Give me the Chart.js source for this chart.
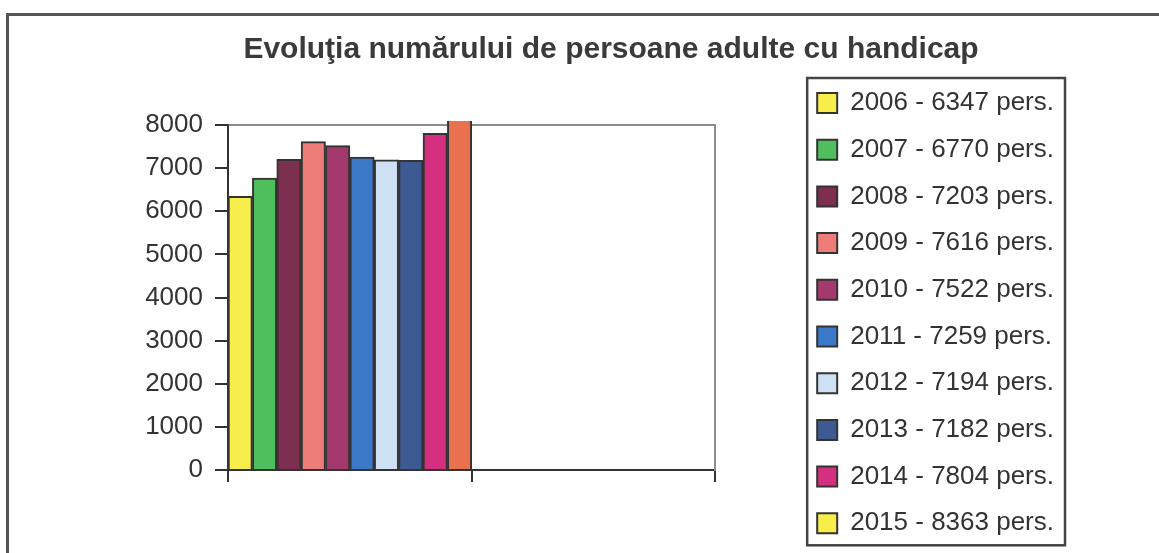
<!DOCTYPE html>
<html>
<head>
<meta charset="utf-8">
<script src="https://cdn.jsdelivr.net/npm/chart.js@4"></script>
<style>
  html, body { margin: 0; padding: 0; background: #fff; overflow: hidden; }
  #wrap { position: relative; width: 1159px; height: 553px; overflow: hidden; }
  #frame { position: absolute; left: 6px; top: 13px; width: 1250px; height: 600px;
           border: 3px solid #555; pointer-events: none; }
  canvas { position: absolute; left: 0; top: 0; }
</style>
</head>
<body>
<div id="wrap">
  <canvas id="chart" width="1222" height="557"></canvas>
  <div id="frame"></div>
</div>
<script>
// date
const categories = ['', ''];
const years = ['2006','2007','2008','2009','2010','2011','2012','2013','2014','2015'];
const persons = [6347, 6770, 7203, 7616, 7522, 7259, 7194, 7182, 7804, 8363];
const barColors = ['#f7ee4c','#4fbe5c','#7d2f4f','#ee7d79','#a3396d','#3b78c8','#cde0f4','#3e5a93','#d4307f','#e9714f'];
// in original legenda pentru 2015 are patrat galben
const legendColors = ['#f7ee4c','#4fbe5c','#7d2f4f','#ee7d79','#a3396d','#3b78c8','#cde0f4','#3e5a93','#d4307f','#f7ee4c'];
const yMax = 8000, yStep = 1000;

const FONT = "'Liberation Sans', Arial, sans-serif";
const INK = '#333';

const datasets = years.map((y, i) => ({
  label: y + ' - ' + persons[i] + ' pers.',
  data: [persons[i], null],
  backgroundColor: barColors[i],
  borderColor: INK,
  borderWidth: 2,
  borderSkipped: 'bottom',
  categoryPercentage: 1,
  barPercentage: 1,
  clip: { top: 4, left: 0, right: 0, bottom: 0 }
}));

// chenar in jurul legendei
const legendBorder = {
  id: 'legendBorder',
  afterDraw(chart){
    const boxes = chart.legend && chart.legend.legendHitBoxes;
    if(!boxes || !boxes.length) return;
    let l = Infinity, t = Infinity, r = -Infinity, b = -Infinity;
    boxes.forEach(h => {
      l = Math.min(l, h.left); t = Math.min(t, h.top);
      r = Math.max(r, h.left + h.width); b = Math.max(b, h.top + h.height);
    });
    const ctx = chart.ctx;
    ctx.save();
    ctx.strokeStyle = '#444';
    ctx.lineWidth = 2.5;
    ctx.strokeRect(l - 10, t - 12, (r + 11) - (l - 10), (b + 9) - (t - 12));
    ctx.restore();
  }
};

// axa goala, doar ca spatiu / chenar
function blankAxis(pos, size, border, weight){
  return {
    type: 'linear',
    position: pos,
    weight: weight || 0,
    grid: { display: false, drawTicks: false },
    border: border ? { display: true, color: '#8c8c8c', width: 2 } : { display: false },
    ticks: { display: false },
    afterFit(scale){
      if(pos === 'top' || pos === 'bottom') scale.height = size; else scale.width = size;
    }
  };
}

new Chart(document.getElementById('chart'), {
  type: 'bar',
  data: { labels: categories, datasets: datasets },
  options: {
    responsive: false,
    animation: false,
    devicePixelRatio: 1,
    layout: { padding: 0 },
    plugins: {
      tooltip: { enabled: false },
      title: {
        display: true,
        text: 'Evoluţia numărului de persoane adulte cu handicap',
        color: '#3a3a3a',
        font: { family: FONT, size: 30, weight: 'bold', lineHeight: 1.2 },
        padding: { top: 31.5, bottom: -30 }
      },
      legend: {
        display: true,
        position: 'right',
        align: 'end',
        maxWidth: 320,
        labels: {
          color: INK,
          font: { family: FONT, size: 26 },
          boxWidth: 20,
          boxHeight: 20,
          padding: 20.7,
          generateLabels(chart){
            return chart.data.datasets.map((ds, i) => ({
              text: ds.label,
              fillStyle: legendColors[i],
              strokeStyle: INK,
              lineWidth: 2,
              fontColor: INK,
              hidden: false,
              datasetIndex: i
            }));
          }
        }
      }
    },
    scales: {
      x: {
        position: 'bottom',
        grid: { display: true, drawOnChartArea: false, drawTicks: true, tickLength: 12, color: INK, lineWidth: 2, offset: true },
        border: { display: true, color: INK, width: 2 },
        ticks: { display: false },
        afterFit(scale){ scale.height = 87; }
      },
      xTop: blankAxis('top', 87.5, true),
      y: {
        min: 0,
        max: yMax,
        position: 'left',
        grid: { display: true, drawOnChartArea: false, drawTicks: true, tickLength: 13, color: INK, lineWidth: 2 },
        border: { display: true, color: INK, width: 2 },
        ticks: { stepSize: yStep, color: INK, padding: 12, font: { family: FONT, size: 26 },
                 callback: v => String(v) },
        afterFit(scale){ scale.width = 228; }
      },
      yRight: blankAxis('right', 81, true),
      spacer: blankAxis('right', 158, false, 2000)
    }
  },
  plugins: [legendBorder]
});
</script>
</body>
</html>
